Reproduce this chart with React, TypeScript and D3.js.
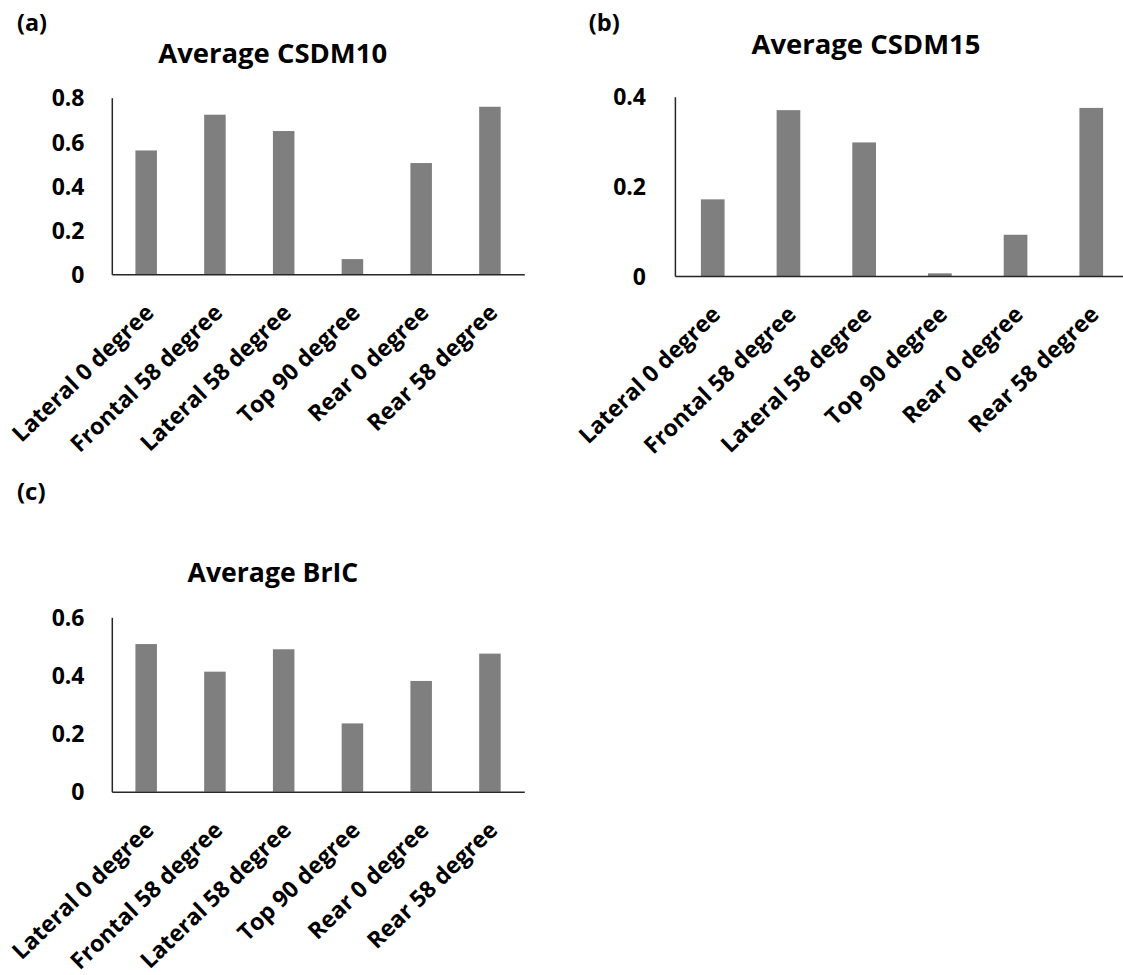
import React, { useRef, useEffect } from "react";
import * as d3 from "d3";

// impact directions shared by all three panels
const categories = [
  "Lateral 0 degree",
  "Frontal 58 degree",
  "Lateral 58 degree",
  "Top 90 degree",
  "Rear 0 degree",
  "Rear 58 degree",
];

const csdm10 = [0.561, 0.723, 0.649, 0.069, 0.504, 0.759];
const csdm15 = [0.171, 0.37, 0.298, 0.006, 0.092, 0.375];
const bric = [0.508, 0.413, 0.49, 0.235, 0.381, 0.475];

const csdm10Ticks = [0, 0.2, 0.4, 0.6, 0.8];
const csdm15Ticks = [0, 0.2, 0.4];
const bricTicks = [0, 0.2, 0.4, 0.6];

const FONT = "'Open Sans', 'DejaVu Sans', sans-serif";

const App = () => {
  const chartRef = useRef();

  useEffect(() => {
    const container = d3.select(chartRef.current);
    container.select("svg").remove();

    const svg = container
      .append("svg")
      .attr("width", 1123)
      .attr("height", 975)
      .style("position", "absolute")
      .style("left", "0px")
      .style("top", "0px")
      .style("background", "#fff");

    const panels = [
      {
        tag: "(a)", tagX: 17, tagY: 31, tagLen: 30,
        title: "Average CSDM10", titleX: 272.7, titleY: 63.3, titleLen: 229,
        values: csdm10, ticks: csdm10Ticks, max: 0.8,
        left: 111.8, right: 524.3, top: 97.7, base: 274.3, labelRight: 84.5,
      },
      {
        tag: "(b)", tagX: 588.7, tagY: 31, tagLen: 31,
        title: "Average CSDM15", titleX: 866, titleY: 54.3, titleLen: 229,
        values: csdm15, ticks: csdm15Ticks, max: 0.4,
        left: 674.9, right: 1129.1, top: 96.7, base: 276, labelRight: 646,
      },
      {
        tag: "(c)", tagX: 17, tagY: 500, tagLen: 28.5,
        title: "Average BrIC", titleX: 272.9, titleY: 581.7, titleLen: 170.7,
        values: bric, ticks: bricTicks, max: 0.6,
        left: 111.8, right: 524.3, top: 617.3, base: 791.7, labelRight: 84.5,
      },
    ];

    panels.forEach((p) => {
      const x = d3
        .scaleBand()
        .domain(categories)
        .range([p.left, p.right])
        .paddingInner(0.687)
        .paddingOuter(0.3435);

      const y = d3.scaleLinear().domain([0, p.max]).range([p.base, p.top]);

      const g = svg.append("g");

      g.selectAll(".bar")
        .data(p.values)
        .enter()
        .append("rect")
        .attr("class", "bar")
        .attr("x", (_, i) => x(categories[i]))
        .attr("y", (d) => y(d))
        .attr("width", x.bandwidth())
        .attr("height", (d) => y(0) - y(d))
        .style("fill", "#7f7f7f");

      // y axis, no tick marks
      const yAxis = g
        .append("g")
        .attr("transform", `translate(${p.left},0)`)
        .call(
          d3
            .axisLeft(y)
            .tickValues(p.ticks)
            .tickSize(0)
            .tickPadding(p.left - p.labelRight)
            .tickFormat(d3.format(""))
        );
      yAxis.select(".domain").attr("stroke", "#262626").attr("stroke-width", 1.5);
      yAxis
        .selectAll("text")
        .attr("dy", "0.36em")
        .style("font-family", FONT)
        .style("font-weight", 700)
        .style("font-size", "23px")
        .style("fill", "#000");

      // x axis with slanted category labels
      const xAxis = g
        .append("g")
        .attr("transform", `translate(0,${p.base})`)
        .call(d3.axisBottom(x).tickSize(0).tickSizeOuter(0));
      xAxis.select(".domain").attr("stroke", "#262626").attr("stroke-width", 1.5);
      xAxis
        .selectAll("text")
        .attr("x", 0)
        .attr("y", 0)
        .attr("dy", 0)
        .attr("text-anchor", "end")
        .attr("transform", "translate(9,40) rotate(-44)")
        .style("font-family", FONT)
        .style("font-weight", 700)
        .style("font-size", "23px")
        .style("fill", "#000");

      g.append("text")
        .attr("x", p.titleX)
        .attr("y", p.titleY)
        .attr("text-anchor", "middle")
        .attr("textLength", p.titleLen)
        .attr("lengthAdjust", "spacingAndGlyphs")
        .style("font-family", FONT)
        .style("font-weight", 700)
        .style("font-size", "26px")
        .text(p.title);

      g.append("text")
        .attr("x", p.tagX)
        .attr("y", p.tagY)
        .attr("textLength", p.tagLen)
        .attr("lengthAdjust", "spacingAndGlyphs")
        .style("font-family", FONT)
        .style("font-weight", 700)
        .style("font-size", "23px")
        .text(p.tag);
    });
  }, []);

  return <div ref={chartRef}></div>;
};

export default App;
